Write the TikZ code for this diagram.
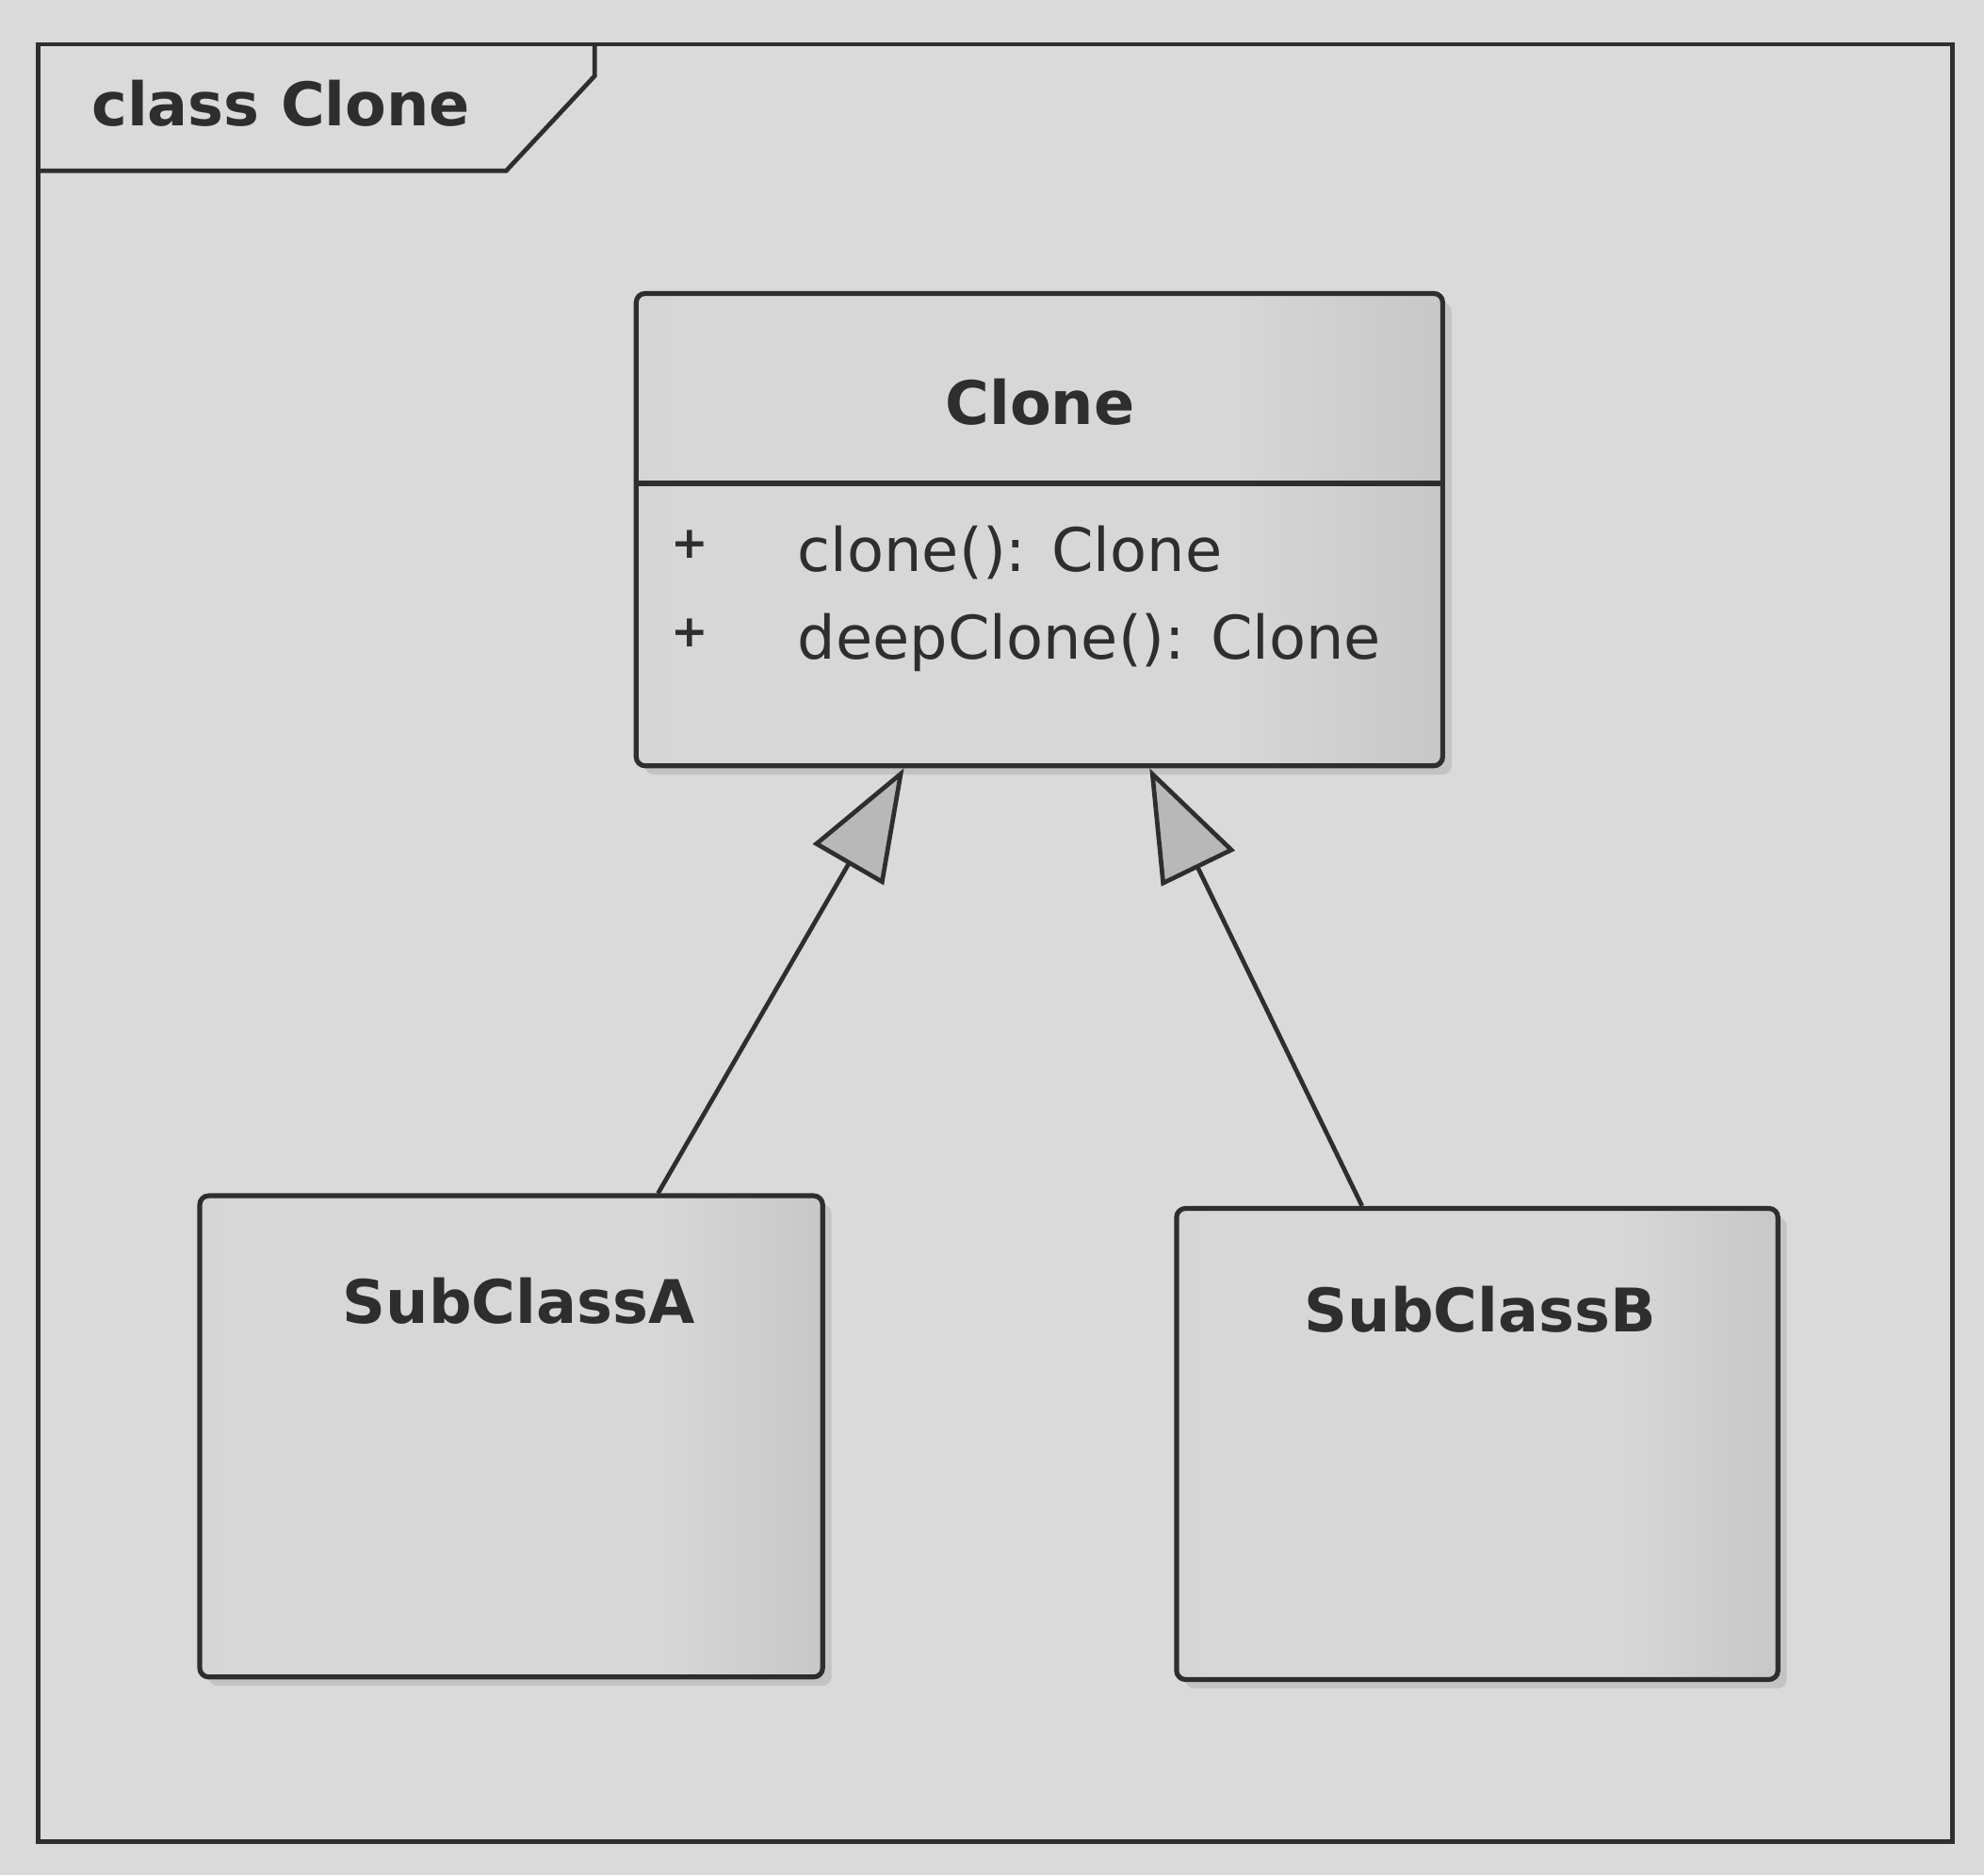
\documentclass[tikz,border=0pt]{standalone}
\usepackage{fontspec}
\setmainfont{DejaVu Sans}
\usetikzlibrary{arrows.meta,shadows}
\definecolor{paper}{HTML}{DADADA}
\definecolor{boxdark}{HTML}{A9A9A9}
\definecolor{boxmid}{HTML}{C4C4C4}
\definecolor{boxlight}{HTML}{D7D7D7}
\definecolor{headgray}{HTML}{B8B8B8}
\definecolor{ink}{HTML}{2E2E2E}
\pgfdeclarehorizontalshading{classshade}{100bp}{color(0bp)=(boxmid); color(28bp)=(boxlight); color(62bp)=(boxlight); color(100bp)=(boxdark)}
\begin{document}
\begin{tikzpicture}[x=0.01cm, y=-0.01cm,
  every node/.style={font=\fontsize{13.5}{16}\selectfont, text=ink},
  classname/.style={font=\fontsize{13.5}{16}\selectfont\bfseries},
  visib/.style={font=\fontsize{10}{12}\selectfont\bfseries},
  classbox/.style={draw=ink, line width=1.1pt, rounded corners=2pt, shading=classshade,
    drop shadow={shadow xshift=2pt, shadow yshift=-2pt, opacity=0.25}, inner sep=0pt},
  inherit/.style={draw=ink, line width=1pt, -{Triangle[length=0.88cm, width=0.64cm, fill=headgray]}}]
\useasboundingbox (0,0) rectangle (1568,1482);
\fill[paper] (0,0) rectangle (1568,1482);
% Frame
\draw[ink, line width=1pt] (30,35) rectangle (1543,1455);
\draw[ink, line width=1pt] (30,135) -- (400,135) -- (470,60) -- (470,35);
\node[classname, anchor=west] (frametitle) at (60,82) {class Clone};
% Base class
\node[classbox, minimum width=6.37cm, minimum height=3.73cm] (clone) at (821.5,418.5) {};
\draw[ink, line width=1.1pt] (clone.west |- 0,382) -- (clone.east |- 0,382);
\node[classname] (clonename) at (822,318) {Clone};
\node[visib] (plusa) at (545,430) {+};
\node[anchor=west] (mclone) at (618,437) {clone(): Clone};
\node[visib] (plusb) at (545,500) {+};
\node[anchor=west] (mdeep) at (618,508) {deepClone(): Clone};
% Sub classes
\node[classbox, minimum width=4.92cm, minimum height=3.80cm] (suba) at (404,1135) {};
\node[classname] (subaname) at (410,1028) {SubClassA};
\node[classbox, minimum width=4.75cm, minimum height=3.72cm] (subb) at (1167.5,1141) {};
\node[classname] (subbname) at (1170,1035) {SubClassB};
% Generalizations
\draw[inherit] ([xshift=1.16cm]suba.north) -- ([xshift=-1.07cm]clone.south);
\draw[inherit] ([xshift=-0.91cm]subb.north) -- ([xshift=0.87cm]clone.south);
\end{tikzpicture}
\end{document}
